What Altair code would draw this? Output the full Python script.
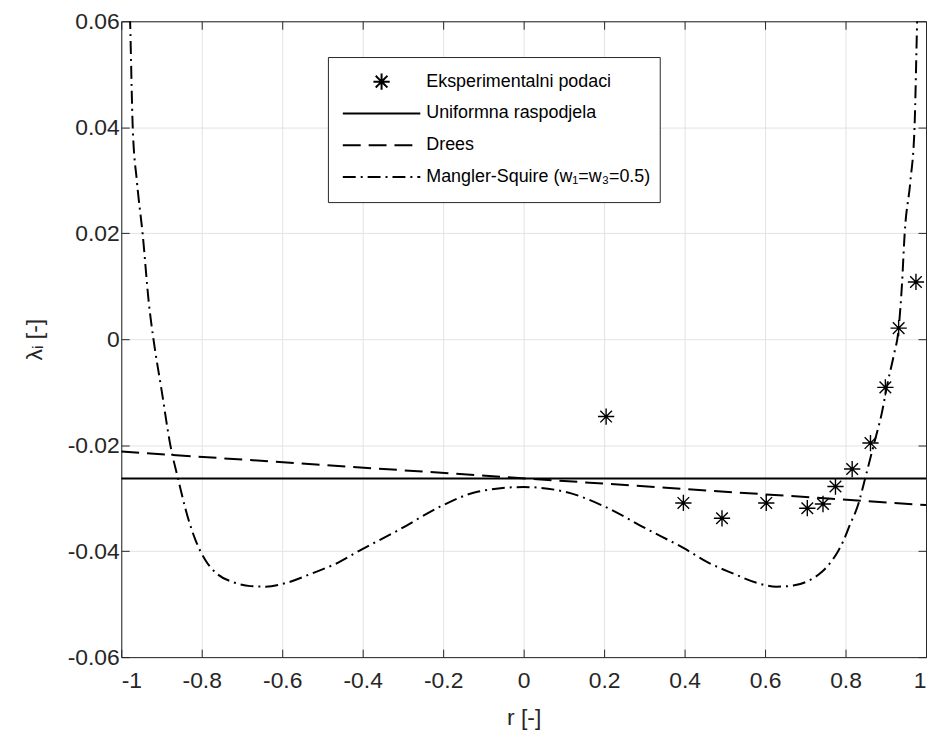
import altair as alt
import pandas as pd

# ---------------- data ----------------
series_names = ["Eksperimentalni podaci", "Uniformna raspodjela", "Drees",
                "Mangler-Squire (w\u2081=w\u2083=0.5)"]

exp_r = [0.205, 0.397, 0.493, 0.603, 0.705, 0.744, 0.775, 0.8165, 0.862, 0.899, 0.932, 0.975]
exp_l = [-0.0146, -0.0309, -0.0338, -0.0309, -0.0319, -0.0311, -0.0278, -0.0245,
         -0.0196, -0.0091, 0.0021, 0.0108]

uni_r = [-1.0, 1.0]
uni_l = [-0.0263, -0.0263]

drees_r = [-1.0, 1.0]
drees_l = [-0.0212, -0.0313]

ms_r = [-0.984, -0.978, -0.9715, -0.961, -0.947, -0.931, -0.920, -0.900, -0.878, -0.859,
        -0.835, -0.815, -0.790, -0.760, -0.724, -0.679, -0.641, -0.590, -0.526, -0.462, -0.403,
        -0.308, -0.205, -0.115, 0.0, 0.103, 0.199, 0.308, 0.397, 0.460, 0.520, 0.580,
        0.628, 0.670, 0.710, 0.740, 0.760, 0.780, 0.795, 0.810, 0.831, 0.851, 0.872, 0.890,
        0.905, 0.920, 0.932, 0.940, 0.947, 0.961, 0.9715, 0.978, 0.984]
ms_l = [0.075, 0.060, 0.040, 0.0297, 0.020, 0.0065, 0.0, -0.0095, -0.020, -0.0263,
        -0.0335, -0.0380, -0.0418, -0.0444, -0.0458, -0.0466, -0.0467, -0.0460, -0.0442, -0.0422,
        -0.0397, -0.0359, -0.0315, -0.0288, -0.0279, -0.0288, -0.0315, -0.0359, -0.0394, -0.0422,
        -0.0442, -0.0460, -0.0467, -0.0465, -0.0455, -0.0440, -0.0424, -0.0402, -0.0380, -0.0352,
        -0.0313, -0.0256, -0.0194, -0.0140, -0.0081, -0.0030, 0.0020, 0.010, 0.020, 0.0297,
        0.040, 0.060, 0.075]

x_ticks = [-1, -0.8, -0.6, -0.4, -0.2, 0, 0.2, 0.4, 0.6, 0.8, 1]
y_ticks = [-0.06, -0.04, -0.02, 0, 0.02, 0.04, 0.06]

# ---------------- tables ----------------
exp_df = pd.DataFrame({"r": exp_r, "l": exp_l, "series": series_names[0]})
lines_df = pd.concat([
    pd.DataFrame({"r": uni_r, "l": uni_l, "series": series_names[1]}),
    pd.DataFrame({"r": drees_r, "l": drees_l, "series": series_names[2]}),
    pd.DataFrame({"r": ms_r, "l": ms_l, "series": series_names[3]}),
], ignore_index=True)

FONT = "Liberation Sans"
TXT = "#262626"
STAR = "M-0.21,0L0.21,0M0,-0.21L0,0.21M-0.15,-0.15L0.15,0.15M-0.15,0.15L0.15,-0.15"
SYM = 6084

x_scale = alt.Scale(domain=[-1, 1], nice=False, zero=False)
y_scale = alt.Scale(domain=[-0.06, 0.06], nice=False, zero=False)

legend = alt.Legend(
    title=None, orient="none", legendX=208, legendY=36,
    padding=9, strokeColor=TXT, fillColor="white", cornerRadius=0,
    labelFont=FONT, labelFontSize=18, labelColor="black", labelOffset=5,
    symbolOffset=5,
    symbolSize=SYM, symbolStrokeWidth=2, symbolStrokeColor="black",
    clipHeight=31.5, rowPadding=0, labelLimit=400,
)

shape_enc = alt.Shape("series:N", scale=alt.Scale(domain=series_names,
                                                  range=[STAR, "stroke", "stroke", "stroke"]),
                      legend=legend)
dash_enc = alt.StrokeDash("series:N", scale=alt.Scale(domain=series_names,
                                                      range=[[1, 0], [1, 0], [18, 8], [13, 5, 2, 5]]),
                          legend=legend)

axis_common = dict(
    domainColor=TXT, tickColor=TXT, tickSize={"expr": "-8"},
    labelFont=FONT, labelFontSize=23, labelColor=TXT,
    titleFont=FONT, titleFontSize=23, titleColor=TXT, titleFontWeight="normal",
    gridColor="#e3e3e3", gridWidth=1,
)

x_axis = alt.Axis(values=x_ticks, title="r [-]", orient="bottom", grid=True,
                  labelExpr="replace(format(datum.value, '.1~f'), '\u2212', '-')",
                  labelPadding=21, titlePadding=14, **axis_common)
y_axis = alt.Axis(values=y_ticks, title="\u03bb\u1d62 [-]", orient="left", grid=True,
                  labelExpr="replace(format(datum.value, '.2~f'), '\u2212', '-')",
                  labelPadding=10, titlePadding=21, **axis_common)

x_axis_top = alt.Axis(values=x_ticks, title=None, orient="top", grid=False, labels=False,
                      domainColor=TXT, tickColor=TXT, tickSize={"expr": "-8"})
y_axis_right = alt.Axis(values=y_ticks, title=None, orient="right", grid=False, labels=False,
                        domainColor=TXT, tickColor=TXT, tickSize={"expr": "-8"})

lines = alt.Chart(lines_df).mark_line(
    clip=True, color="black", strokeWidth=2, interpolate="monotone"
).encode(
    x=alt.X("r:Q", scale=x_scale, axis=x_axis),
    y=alt.Y("l:Q", scale=y_scale, axis=y_axis),
    strokeDash=dash_enc,
    detail="series:N",
)

points = alt.Chart(exp_df).mark_point(
    filled=False, color="black", strokeWidth=1.4, size=SYM, opacity=1
).encode(
    x=alt.X("r:Q", scale=x_scale, axis=x_axis_top),
    y=alt.Y("l:Q", scale=y_scale, axis=y_axis_right),
    shape=shape_enc,
)

chart = alt.layer(lines, points).resolve_axis(
    x="independent", y="independent"
).properties(
    width=925, height=724,
    autosize=alt.AutoSizeParams(type="fit", contains="padding"),
    padding={"left": 15, "top": 0, "right": 0, "bottom": 0},
).configure_view(stroke=None).configure(background="white")

chart.save("out.html", embed_options={"renderer": "svg", "actions": False})
